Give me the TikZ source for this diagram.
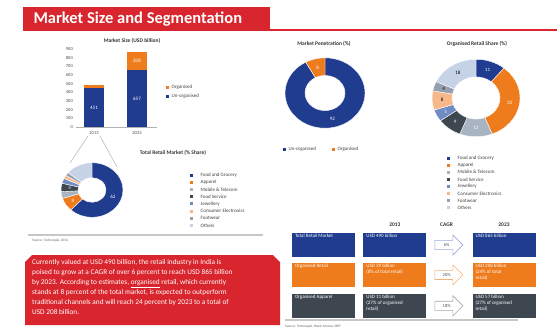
\documentclass[tikz,border=0pt]{standalone}
\usepackage{fontspec}
\setmainfont{Carlito}
\usetikzlibrary{shapes.arrows, positioning}

\definecolor{hdrred}{HTML}{D9252D}
\definecolor{ddblue}{HTML}{1F3C8F}
\definecolor{ddorange}{HTML}{EE7B1C}
\definecolor{ddgray}{HTML}{3E4750}
\definecolor{mtgray}{HTML}{A9B4C2}
\definecolor{jewblue}{HTML}{6F8DC4}
\definecolor{celight}{HTML}{F6B889}
\definecolor{fwgray}{HTML}{96A0AC}
\definecolor{othblue}{HTML}{C6D2E6}
\definecolor{arrblue}{HTML}{9FA8DA}
\definecolor{arrorange}{HTML}{F5B27A}
\definecolor{arrgray}{HTML}{A8A8A8}

% text of a table cell, top aligned
\newcommand{\celltext}[1]{\parbox[c][21pt][t]{57pt}{\raggedright #1}}
% ring chart: centre, outer radius, inner radius, start/end/colour/label/label colour
\newcommand{\donut}[4]{%
  \begin{scope}[shift={#1}, yscale=0.88]
    \foreach \s/\e/\c/\l/\t in {#4} {
      \pgfmathsetmacro\a{3.6*\s-90}
      \pgfmathsetmacro\b{3.6*\e-90}
      \pgfmathsetmacro\m{(\a+\b)/2}
      \fill[\c, draw=white, line width=0.4pt] (\a:#2) arc[start angle=\a, end angle=\b, radius=#2]
        -- (\b:#3) arc[start angle=\b, end angle=\a, radius=#3] -- cycle;
      \node[slicelabel, text=\t] at ({\m}:{(#2+#3)/2}) {\l};
    }
  \end{scope}}

\begin{document}
\begin{tikzpicture}[
    x=1pt, y=-1pt,
    node distance=8pt,
    title/.style={font=\bfseries\fontsize{5.5}{6}\selectfont, text=black!80},
    tick/.style={font=\fontsize{4.5}{5}\selectfont, text=black!70, anchor=east, inner sep=1pt},
    slicelabel/.style={font=\fontsize{5}{6}\selectfont, inner sep=0pt},
    keyentry/.style 2 args={font=\fontsize{5}{6}\selectfont, text=black!75, anchor=west, inner sep=0.5pt,
        label={[fill=#1, minimum size=3pt, inner sep=0pt, label distance=#2]left:{}}},
    cellbox/.style={rectangle, fill=#1, minimum width=63pt, minimum height=24pt, inner sep=0pt,
        text=white, font=\fontsize{5}{6}\selectfont},
    growth/.style={single arrow, draw=#1, fill=white, line width=0.6pt, minimum height=28pt,
        minimum width=20pt, single arrow head extend=4pt, inner sep=1.5pt,
        font=\fontsize{4.5}{5}\selectfont, text=black!70},
    source/.style={font=\fontsize{3.5}{4}\selectfont, text=black!60, anchor=west, inner sep=0pt},
    rule/.style={draw=black!22, line width=1.2pt},
    callout/.style={draw=black!35, line width=0.4pt}
]
\fill[white] (0,0) rectangle (557,333);
\useasboundingbox (0,0) rectangle (557,333);

% Header
\fill[hdrred] (23,7) rectangle (270,31);
\fill[hdrred] (270,29) rectangle (557,31);
\node[anchor=west, text=white, font=\bfseries\fontsize{16.5}{18}\selectfont] (header) at (30,19) {Market Size and Segmentation};

% Market size bars
\node[title] (sizetitle) at (132,41) {Market Size (USD billion)};
\begin{scope}[shift={(0,127)}, yscale=-0.0867]
  \foreach \v in {0,100,...,900}
    \node[tick] at (74,\v) {\v};
  \fill[ddblue] (84,0) rectangle (104,451);
  \fill[ddorange] (84,451) rectangle (104,490);
  \fill[ddblue] (127,0) rectangle (147,657);
  \fill[ddorange] (127,657) rectangle (147,865);
  \draw[black!30, line width=0.4pt] (76,0) -- (157,0);
  \node[slicelabel, text=white] (v451) at (94,225) {451};
  \node[slicelabel, text=white] (v657) at (137,330) {657};
  \node[slicelabel, text=white] (v208) at (137,761) {208};
\end{scope}
\node[tick, anchor=center] (y13) at (94,133) {2013};
\node[tick, anchor=center] (y23) at (137,133) {2023};
\node[keyentry={ddorange}{1.5pt}] (korg) at (171,87) {Organised};
\node[keyentry={ddblue}{1.5pt}, below=9pt of korg.west, anchor=west] (kunorg) {Un-organised};

% Callout to total retail market
\draw[callout] (y13.south west) -- (70,163);
\draw[callout] (y13.south east) -- (117,167);

% Total retail market ring
\node[title] (tottitle) at (173,153) {Total Retail Market (\% Share)};
\donut{(92,190)}{31}{14}{0/62/ddblue/62/white, 62/70/ddorange/8/white, 70/74/mtgray//black,
  74/79/ddgray/5/white, 79/82/jewblue//white, 82/84/celight//black, 84/86/fwgray//black, 86/100/othblue//black}
\node[keyentry={ddblue}{7pt}] (t1) at (200,175) {Food and Grocery};
\node[keyentry={ddorange}{7pt}, below=7.2pt of t1.west, anchor=west] (t2) {Apparel};
\node[keyentry={mtgray}{7pt}, below=7.2pt of t2.west, anchor=west] (t3) {Mobile \& Telecom};
\node[keyentry={ddgray}{7pt}, below=7.2pt of t3.west, anchor=west] (t4) {Food Service};
\node[keyentry={jewblue}{7pt}, below=7.2pt of t4.west, anchor=west] (t5) {Jewellery};
\node[keyentry={celight}{7pt}, below=7.2pt of t5.west, anchor=west] (t6) {Consumer Electronics};
\node[keyentry={fwgray}{7pt}, below=7.2pt of t6.west, anchor=west] (t7) {Footwear};
\node[keyentry={othblue}{7pt}, below=7.2pt of t7.west, anchor=west] (t8) {Others};

\draw[rule] (28,235) -- (263,235);
\node[source] (src1) at (32,241) {Source: Technopak, 2014};

% Market penetration ring
\node[title] (pentitle) at (324,44) {Market Penetration (\%)};
\donut{(325,93)}{40}{20}{0/92/ddblue/92/white, 92/100/ddorange/8/white}
\node[keyentry={ddblue}{1.5pt}] (kpun) at (288,149) {Un-organised};
\node[keyentry={ddorange}{1.5pt}] (kpor) at (337,149) {Organised};

% Organised retail share ring
\node[title] (orgtitle) at (477,44) {Organised Retail Share (\%)};
\donut{(476,98)}{44}{24}{0/11/ddblue/11/white, 11/44/ddorange/33/white, 44/56/mtgray/12/white,
  56/65/ddgray/9/white, 65/70/jewblue/5/white, 70/78/celight/8/black, 78/82/fwgray/4/black, 82/100/othblue/18/black}
\node[keyentry={ddblue}{7pt}] (o1) at (457,158) {Food and Grocery};
\node[keyentry={ddorange}{7pt}, below=7.1pt of o1.west, anchor=west] (o2) {Apparel};
\node[keyentry={mtgray}{7pt}, below=7.1pt of o2.west, anchor=west] (o3) {Mobile \& Telecom};
\node[keyentry={ddgray}{7pt}, below=7.1pt of o3.west, anchor=west] (o4) {Food Service};
\node[keyentry={jewblue}{7pt}, below=7.1pt of o4.west, anchor=west] (o5) {Jewellery};
\node[keyentry={celight}{7pt}, below=7.1pt of o5.west, anchor=west] (o6) {Consumer Electronics};
\node[keyentry={fwgray}{7pt}, below=7.1pt of o6.west, anchor=west] (o7) {Footwear};
\node[keyentry={othblue}{7pt}, below=7.1pt of o7.west, anchor=west] (o8) {Others};

% Summary text box
\fill[hdrred] (25,262) -- (32,255) -- (273,255) -- (280,262) -- (280,325) -- (25,325) -- cycle;
\node[anchor=north west, text=white, align=left, inner sep=0pt, font=\fontsize{7.3}{10}\selectfont] (summary) at (32,259)
  {Currently valued at USD 490 billion, the retail industry in India is\\
   poised to grow at a CAGR of over 6 percent to reach USD 865 billion\\
   by 2023. According to estimates, \underline{organised} retail, which currently\\
   stands at 8 percent of the total market, is expected to outperform\\
   traditional channels and will reach 24 percent by 2023 to a total of\\
   USD 208 billion.};

% Growth table
\node[cellbox=ddblue] (tot) at (323.5,245) {\celltext{Total Retail Market}};
\node[cellbox=ddblue, right=of tot] (tot13) {\celltext{USD 490 billion}};
\node[growth=arrblue, right=of tot13] (totcagr) {6\%};
\node[cellbox=ddblue, right=9pt of totcagr] (tot23) {\celltext{USD 865 billion}};

\node[cellbox=ddorange, below=5.5pt of tot] (org) {\celltext{Organised Retail}};
\node[cellbox=ddorange, right=of org] (org13) {\celltext{USD 39 billion\\(8\% of total retail)}};
\node[growth=arrorange, right=of org13] (orgcagr) {20\%};
\node[cellbox=ddorange, right=9pt of orgcagr] (org23) {\celltext{USD 208 billion\\(24\% of total\\retail)}};

\node[cellbox=ddgray, below=6.5pt of org] (app) {\celltext{Organised Apparel}};
\node[cellbox=ddgray, right=of app] (app13) {\celltext{USD 11 billion\\(27\% of organised\\retail)}};
\node[growth=arrgray, right=of app13] (appcagr) {18\%};
\node[cellbox=ddgray, right=9pt of appcagr] (app23) {\celltext{USD 57 billion\\(27\% of organised\\retail)}};

\node[title, above=3pt of tot13] (h13) {2013};
\node[title] (hcagr) at (totcagr |- h13) {CAGR};
\node[title, above=3pt of tot23] (h23) {2023};

\draw[rule] (285,320) -- (518,320);
\node[source] (src2) at (285,327) {Source: Technopak, Wazir Advisor, IBEF};

\end{tikzpicture}
\end{document}
